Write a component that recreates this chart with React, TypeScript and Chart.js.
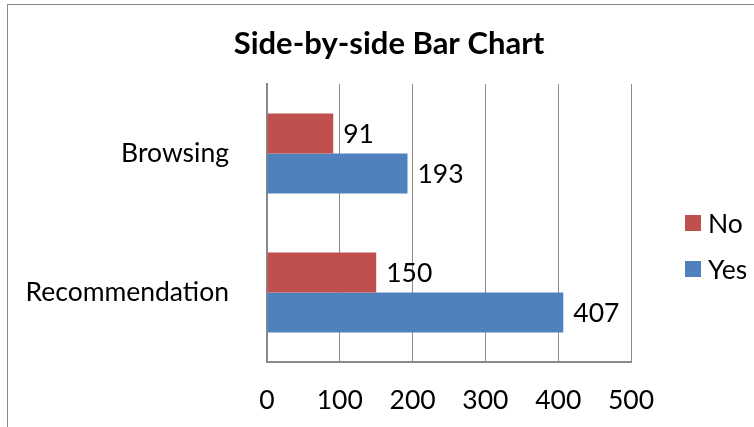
import React, { useEffect, useRef } from "react";
import { Chart, registerables } from "chart.js";

Chart.register(...registerables);

const categories = ["Browsing", "Recommendation"];
const noValues = [91, 150];
const yesValues = [193, 407];
const seriesLabels = ["No", "Yes"];
const xTicks = [0, 100, 200, 300, 400, 500];
const titleText = "Side-by-side Bar Chart";

const RED = "#C0504D";
const BLUE = "#4F81BD";
const GRID = "#8a8a8a";
const FAMILY = "Lato, 'Noto Sans', sans-serif";
const FS = 26.5;

const W = 754;
const H = 427;

const decorPlugin = {
  id: "decor",
  afterDatasetsDraw(chart: any) {
    const ctx = chart.ctx;
    ctx.save();
    // data labels
    ctx.font = `${FS}px ${FAMILY}`;
    ctx.fillStyle = "#000";
    ctx.textBaseline = "middle";
    ctx.textAlign = "left";
    chart.data.datasets.forEach((ds: any, di: number) => {
      const meta = chart.getDatasetMeta(di);
      meta.data.forEach((bar: any, i: number) => {
        ctx.fillText(String(ds.data[i]), bar.x + 10, bar.y + 1);
      });
    });
    // title
    ctx.font = `bold 31px ${FAMILY}`;
    ctx.textAlign = "center";
    ctx.fillText(titleText, 389, 44);
    // legend
    ctx.font = `${FS}px ${FAMILY}`;
    ctx.textAlign = "left";
    chart.data.datasets.forEach((ds: any, di: number) => {
      const cy = 223 + di * 46;
      ctx.fillStyle = ds.backgroundColor;
      ctx.fillRect(685, cy - 8, 16, 16);
      ctx.fillStyle = "#000";
      ctx.fillText(ds.label, 708, cy + 1);
    });
    ctx.restore();
  },
};

export default function App() {
  const ref = useRef<HTMLCanvasElement | null>(null);

  useEffect(() => {
    if (!ref.current) return;
    const chart = new Chart(ref.current, {
      type: "bar",
      data: {
        labels: categories,
        datasets: [
          { label: seriesLabels[0], data: noValues, backgroundColor: RED },
          { label: seriesLabels[1], data: yesValues, backgroundColor: BLUE },
        ],
      },
      plugins: [decorPlugin],
      options: {
        indexAxis: "y",
        responsive: false,
        animation: false,
        maintainAspectRatio: false,
        layout: { padding: { top: 84, right: 123, left: 0, bottom: 0 } },
        datasets: { bar: { categoryPercentage: 0.575, barPercentage: 1 } },
        plugins: {
          legend: { display: false },
          title: { display: false },
          tooltip: { enabled: false },
        },
        scales: {
          x: {
            min: 0,
            max: 500,
            afterBuildTicks: (scale: any) => {
              scale.ticks = xTicks.map((v) => ({ value: v }));
            },
            afterFit: (scale: any) => {
              scale.height = H - 362;
            },
            grid: { color: GRID, lineWidth: 1, drawTicks: false },
            border: { color: GRID, width: 2 },
            ticks: {
              color: "#000",
              padding: 23,
              font: { family: FAMILY, size: FS },
            },
          },
          y: {
            afterFit: (scale: any) => {
              scale.width = 267;
            },
            grid: { display: false, drawTicks: false },
            border: { color: GRID, width: 2 },
            ticks: {
              color: "#000",
              padding: 38,
              font: { family: FAMILY, size: FS },
            },
          },
        },
      },
    });
    return () => chart.destroy();
  }, []);

  return (
    <div style={{ position: "fixed", left: 0, top: 0, width: W, height: H, background: "#fff", overflow: "hidden" }}>
      <div
        style={{
          position: "absolute",
          left: 7,
          top: 4,
          width: W + 20,
          height: H + 20,
          border: "1px solid #8a8a8a",
          boxSizing: "border-box",
        }}
      />
      <canvas ref={ref} width={W} height={H} style={{ position: "absolute", left: 0, top: 0, width: W, height: H }} />
    </div>
  );
}
